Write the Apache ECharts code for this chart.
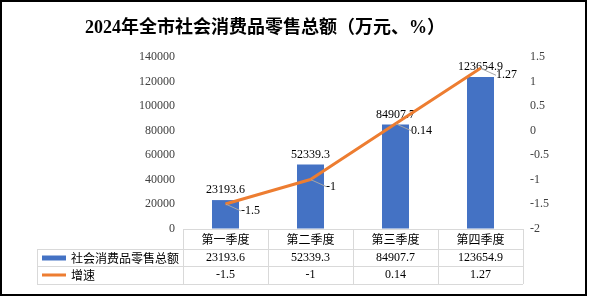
<!DOCTYPE html>
<html><head><meta charset="utf-8">
<script src="https://cdn.jsdelivr.net/npm/echarts@6/dist/echarts.min.js"></script>
<style>html,body{margin:0;padding:0;background:#fff}#c{width:589px;height:297px}</style>
</head><body><div id="c"></div>
<script>
const titleText = '2024年全市社会消费品零售总额（万元、%）';
const categories = ['第一季度', '第二季度', '第三季度', '第四季度'];
const retailTotal = [23193.6, 52339.3, 84907.7, 123654.9];
const growth = [-1.5, -1, 0.14, 1.27];
const seriesNames = ['社会消费品零售总额', '增速'];
const leftAxis = { min: 0, max: 140000, interval: 20000 };
const rightAxis = { min: -2, max: 1.5, interval: 0.5 };

const W = 589, H = 297;
const gL = 183, gR = 523, gT = 57, gB = 228.5;
const rows = [229, 249, 266, 284];
const tableLeft = 37;
const gray = '#D9D9D9';
const serif = '"Liberation Serif", "Times New Roman", serif';
const cjk = '"Noto Sans CJK SC", sans-serif';

const graphics = [];
graphics.push({ type: 'rect', shape: { x: 1, y: 1, width: 585, height: 294 }, style: { fill: 'none', stroke: '#000', lineWidth: 2 }, silent: true });
graphics.push({ type: 'line', shape: { x1: gL, y1: rows[0] + 0.5, x2: gR, y2: rows[0] + 0.5 }, style: { stroke: gray, lineWidth: 1 } });
for (let i = 1; i < rows.length; i++) {
  graphics.push({ type: 'line', shape: { x1: tableLeft, y1: rows[i] + 0.5, x2: gR, y2: rows[i] + 0.5 }, style: { stroke: gray, lineWidth: 1 } });
}
const bw = (gR - gL) / categories.length;
for (let i = 0; i <= categories.length; i++) {
  const x = Math.round(gL + i * bw) + 0.5;
  graphics.push({ type: 'line', shape: { x1: x, y1: rows[0], x2: x, y2: rows[3] }, style: { stroke: gray, lineWidth: 1 } });
}
graphics.push({ type: 'line', shape: { x1: tableLeft + 0.5, y1: rows[1], x2: tableLeft + 0.5, y2: rows[3] }, style: { stroke: gray, lineWidth: 1 } });

const tableAxis = (data, offset, font) => ({
  type: 'category', data: data, position: 'bottom', offset: offset,
  axisLine: { show: false }, axisTick: { show: false }, splitLine: { show: false },
  axisLabel: { interval: 0, margin: 5, fontSize: 12, color: '#000', fontFamily: font }
});

const chart = echarts.init(document.getElementById('c'), null, { renderer: 'canvas' });
chart.setOption({
  animation: false,
  backgroundColor: '#fff',
  title: {
    text: titleText, left: 80, top: 14,
    textStyle: { fontSize: 18, fontWeight: 'bold', color: '#000', fontFamily: serif + ', "Noto Sans CJK SC"' }
  },
  legend: {
    orient: 'vertical', left: 42, top: 251, padding: 0, itemGap: 3, itemWidth: 24, itemHeight: 5,
    textStyle: { fontSize: 12, color: '#000', fontFamily: cjk, lineHeight: 14 },
    data: [
      { name: seriesNames[0], icon: 'rect' },
      { name: seriesNames[1], icon: 'path://M0,0L0.01,0Z M0,1H24V4H0Z M23.99,5L24,5Z' }
    ]
  },
  grid: { left: gL, right: W - gR, top: gT, bottom: H - gB, containLabel: false },
  xAxis: [
    {
      type: 'category', data: categories, position: 'bottom',
      axisLine: { show: false }, axisTick: { show: false },
      axisLabel: { interval: 0, margin: 5, fontSize: 12, color: '#000', fontFamily: cjk }
    },
    tableAxis(retailTotal.map(String), 18, serif),
    tableAxis(growth.map(String), 35, serif)
  ],
  yAxis: [
    {
      type: 'value', min: leftAxis.min, max: leftAxis.max, interval: leftAxis.interval,
      axisLine: { show: false }, axisTick: { show: false }, splitLine: { show: false },
      axisLabel: { fontSize: 12, color: '#404040', fontFamily: serif, margin: 8, formatter: v => String(v) }
    },
    {
      type: 'value', min: rightAxis.min, max: rightAxis.max, interval: rightAxis.interval,
      position: 'right',
      axisLine: { show: false }, axisTick: { show: false }, splitLine: { show: false },
      axisLabel: { fontSize: 12, color: '#404040', fontFamily: serif, margin: 7, formatter: v => String(v) }
    }
  ],
  series: [
    {
      name: seriesNames[0], type: 'bar', data: retailTotal, barWidth: 27,
      itemStyle: { color: '#4472C4' },
      label: { show: true, position: 'top', distance: 4, fontSize: 12, color: '#000', fontFamily: serif }
    },
    {
      name: seriesNames[1], type: 'line', yAxisIndex: 1, data: growth,
      symbol: 'circle', symbolSize: 1, showSymbol: true,
      lineStyle: { color: '#ED7D31', width: 3 }, itemStyle: { color: '#ED7D31' },
      label: { show: true, position: 'right', distance: 5, fontSize: 12, color: '#000', fontFamily: serif },
      labelLayout: { dx: 10, dy: 7 },
      labelLine: { show: true, lineStyle: { color: '#A6A6A6', width: 1 } },
      z: 5
    }
  ],
  graphic: graphics
});
</script></body></html>
